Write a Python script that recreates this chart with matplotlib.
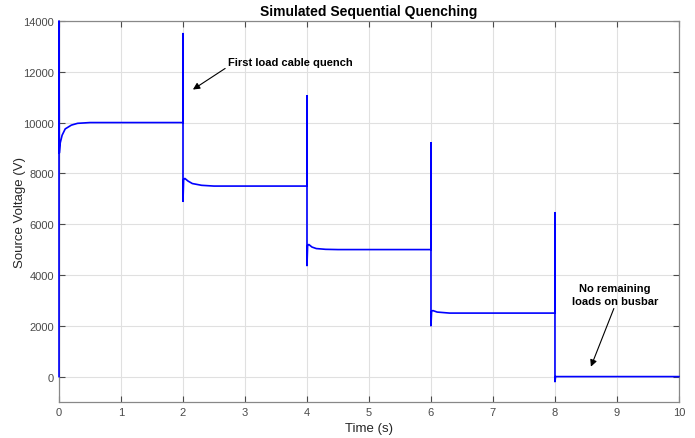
import matplotlib
matplotlib.use("Agg")
import matplotlib.pyplot as plt

plt.rcParams['font.family'] = ['Liberation Sans', 'DejaVu Sans']

# Source voltage trace (key points)
time_s = [0.0, 0.0, 0.005, 0.02, 0.05, 0.1, 0.2, 0.3, 0.5, 2.0,
          2.0, 2.0, 2.01, 2.03, 2.08, 2.15, 2.3, 2.5, 4.0,
          4.0, 4.0, 4.01, 4.03, 4.08, 4.15, 4.3, 4.5, 6.0,
          6.0, 6.0, 6.01, 6.03, 6.1, 6.3, 8.0,
          8.0, 8.0, 8.01, 10.0]
voltage_v = [0, 14000, 8800, 9200, 9500, 9750, 9900, 9970, 10000, 10000,
             13500, 6900, 7750, 7800, 7700, 7600, 7530, 7500, 7500,
             11050, 4370, 5150, 5200, 5100, 5040, 5010, 5000, 5000,
             9200, 2000, 2570, 2600, 2540, 2500, 2500,
             6450, -200, 0, 0]

x_ticks = [0, 1, 2, 3, 4, 5, 6, 7, 8, 9, 10]
y_ticks = [0, 2000, 4000, 6000, 8000, 10000, 12000, 14000]

title = "Simulated Sequential Quenching"
xlabel = "Time (s)"
ylabel = "Source Voltage (V)"
note1 = "First load cable quench"
note2 = "No remaining\nloads on busbar"

fig = plt.figure(figsize=(6.95, 4.39), dpi=100)
ax = fig.add_axes([0.0849, 0.082, 0.892, 0.868])
ax.plot(time_s, voltage_v, color='#0000ff', linewidth=1.2, clip_on=False, zorder=3)

ax.set_xlim(0, 10)
ax.set_ylim(-1000, 14000)
ax.set_xticks(x_ticks)
ax.set_yticks(y_ticks)
ax.grid(True, color='#e0e0e0', linewidth=0.8)
ax.set_axisbelow(True)
ax.tick_params(direction='in', top=True, right=True, labelsize=8,
               colors='#4a4a4a', length=4, width=0.8)
for sp in ax.spines.values():
    sp.set_color('#888888')
    sp.set_linewidth(0.9)

ax.set_title(title, fontsize=10, fontweight='bold', pad=4)
ax.set_xlabel(xlabel, fontsize=9.5, color='#262626', labelpad=4)
ax.set_ylabel(ylabel, fontsize=9.5, color='#262626')
ax.yaxis.set_label_coords(-0.053, 0.5)

ax.text(2.73, 12400, note1, fontsize=8, fontweight='bold', ha='left', va='center')
ax.annotate('', xy=(2.16, 11300), xytext=(2.68, 12130),
            arrowprops=dict(arrowstyle='-|>', color='black', lw=0.8,
                            shrinkA=0, shrinkB=0, mutation_scale=10))
ax.text(8.97, 3230, note2, fontsize=8, fontweight='bold', ha='center',
        va='center', linespacing=1.3)
ax.annotate('', xy=(8.58, 390), xytext=(8.95, 2680),
            arrowprops=dict(arrowstyle='-|>', color='black', lw=0.8,
                            shrinkA=0, shrinkB=0, mutation_scale=10))

fig.savefig("out.png", dpi=100)
